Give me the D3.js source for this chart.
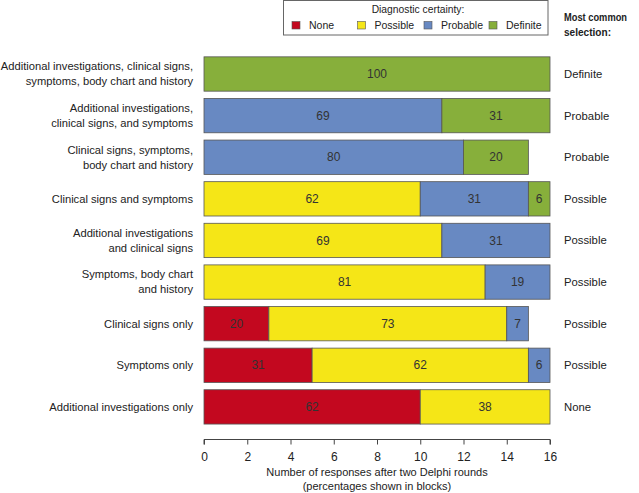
<!DOCTYPE html>
<html><head><meta charset="utf-8">
<script src="https://cdn.jsdelivr.net/npm/d3@7"></script>
<style>body{margin:0;background:#fff}svg{display:block}text{font-family:"Liberation Sans",Arial,sans-serif;fill:#222}</style>
</head><body>
<script>
const categories = [
  ["Additional investigations, clinical signs,", "symptoms, body chart and history"],
  ["Additional investigations,", "clinical signs, and symptoms"],
  ["Clinical signs, symptoms,", "body chart and history"],
  ["Clinical signs and symptoms"],
  ["Additional investigations", "and clinical signs"],
  ["Symptoms, body chart", "and history"],
  ["Clinical signs only"],
  ["Symptoms only"],
  ["Additional investigations only"]
];
const levels = ["None", "Possible", "Probable", "Definite"];
const noneCounts     = [0, 0, 0, 0, 0, 0, 3, 5, 10];
const possibleCounts = [0, 0, 0, 10, 11, 13, 11, 10, 6];
const probableCounts = [0, 11, 12, 5, 5, 3, 1, 1, 0];
const definiteCounts = [16, 5, 3, 1, 0, 0, 0, 0, 0];
const nonePct     = [0, 0, 0, 0, 0, 0, 20, 31, 62];
const possiblePct = [0, 0, 0, 62, 69, 81, 73, 62, 38];
const probablePct = [0, 69, 80, 31, 31, 19, 7, 6, 0];
const definitePct = [100, 31, 20, 6, 0, 0, 0, 0, 0];
const mostCommon = ["Definite", "Probable", "Probable", "Possible", "Possible", "Possible", "Possible", "Possible", "None"];
const xTicks = [0, 2, 4, 6, 8, 10, 12, 14, 16];
const colors = ["#C3081F", "#F5E617", "#6889C2", "#87AF3B"];

const W = 639, H = 493;
const svg = d3.select("body").append("svg").attr("width", W).attr("height", H);
const x = d3.scaleLinear().domain([0, 16]).range([204, 550]);
const y = d3.scaleBand().domain(d3.range(categories.length)).range([53.2, 427.7]).paddingInner(0.175).paddingOuter(0.0875);
const color = d3.scaleOrdinal().domain(levels).range(colors);

const counts = [noneCounts, possibleCounts, probableCounts, definiteCounts];
const pcts = [nonePct, possiblePct, probablePct, definitePct];
const rows = categories.map((c, i) => {
  const o = {i};
  levels.forEach((l, k) => { o[l] = counts[k][i]; });
  return o;
});
const stack = d3.stack().keys(levels)(rows);

const g = svg.append("g");
stack.forEach((layer, k) => {
  layer.forEach((d, i) => {
    if (d[1] - d[0] <= 0) return;
    g.append("rect")
      .attr("x", x(d[0])).attr("y", y(i))
      .attr("width", x(d[1]) - x(d[0])).attr("height", y.bandwidth())
      .attr("fill", color(levels[k])).attr("stroke", "#555").attr("stroke-width", 0.8);
    g.append("text")
      .attr("x", (x(d[0]) + x(d[1])) / 2).attr("y", y(i) + y.bandwidth() / 2)
      .attr("dy", "0.35em").attr("text-anchor", "middle").attr("font-size", 12)
      .style("fill", "#333").text(pcts[k][i]);
  });
});

// category labels
categories.forEach((lines, i) => {
  const cy = y(i) + y.bandwidth() / 2;
  const t = svg.append("text").attr("text-anchor", "end").attr("font-size", 11.2);
  lines.forEach((ln, j) => {
    t.append("tspan").attr("x", 193)
      .attr("y", cy + (j - (lines.length - 1) / 2) * 15).attr("dy", "0.35em").text(ln);
  });
  svg.append("text").attr("x", 564).attr("y", cy).attr("dy", "0.35em")
    .attr("font-size", 11.3).text(mostCommon[i]);
});

// x axis
const ax = svg.append("g").attr("transform", "translate(0,439.5)")
  .call(d3.axisBottom(x).tickValues(xTicks).tickSize(5).tickPadding(8).tickFormat(d3.format("d")));
ax.select(".domain").attr("stroke", "#444").attr("d", `M${x(0)},5V0H${x(16)}V5`);
ax.selectAll(".tick line").attr("stroke", "#444");
ax.selectAll(".tick text").attr("font-size", 12).style("fill", "#222").attr("font-family", "Liberation Sans, Arial, sans-serif");

svg.append("text").attr("x", 377).attr("y", 476).attr("text-anchor", "middle").attr("font-size", 11)
  .text("Number of responses after two Delphi rounds");
svg.append("text").attr("x", 377).attr("y", 490).attr("text-anchor", "middle").attr("font-size", 11)
  .text("(percentages shown in blocks)");

// legend
svg.append("rect").attr("x", 283.5).attr("y", 0.5).attr("width", 264.5).attr("height", 34.5)
  .attr("fill", "#fff").attr("stroke", "#666").attr("stroke-width", 1);
svg.append("text").attr("x", 418).attr("y", 13).attr("text-anchor", "middle").attr("font-size", 10.3)
  .text("Diagnostic certainty:");
const legX = [296, 361.5, 428, 493];
levels.forEach((l, k) => {
  svg.append("rect").attr("x", legX[k] - 4).attr("y", 21.5).attr("width", 8).attr("height", 7.5)
    .attr("fill", colors[k]).attr("stroke", "#555").attr("stroke-width", 0.6);
  svg.append("text").attr("x", legX[k] + 13).attr("y", 25.5).attr("dy", "0.35em")
    .attr("font-size", 10.5).text(l);
});
svg.append("text").attr("x", 564).attr("y", 21).attr("font-size", 11).attr("font-weight", "bold")
  .attr("textLength", 63).attr("lengthAdjust", "spacingAndGlyphs").text("Most common");
svg.append("text").attr("x", 564).attr("y", 36).attr("font-size", 11).attr("font-weight", "bold")
  .attr("textLength", 47).attr("lengthAdjust", "spacingAndGlyphs").text("selection:");
</script>
</body></html>
